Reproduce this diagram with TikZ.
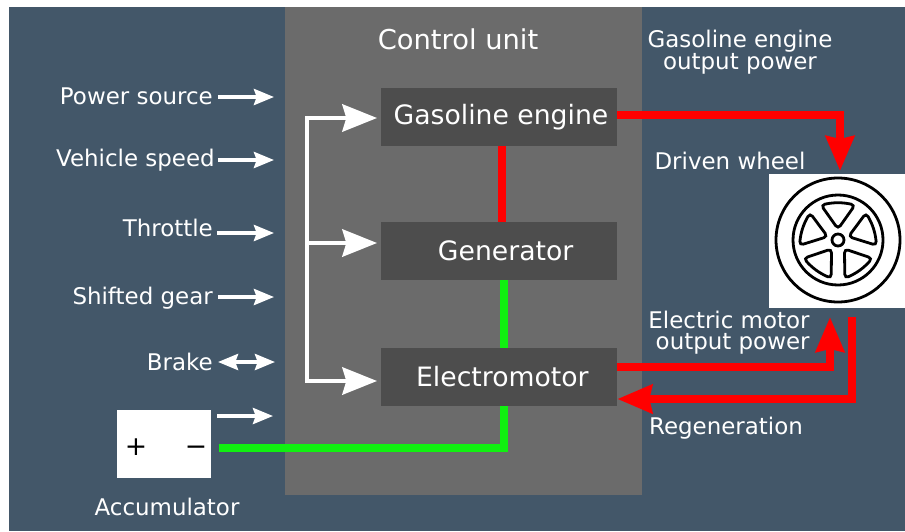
\documentclass[tikz,border=0pt]{standalone}
\usepackage{fontspec}
\setmainfont{DejaVu Sans}
\usetikzlibrary{arrows.meta}
\definecolor{bluebg}{HTML}{435769}
\definecolor{unitgray}{HTML}{6B6B6B}
\definecolor{boxgray}{HTML}{4D4D4D}
\definecolor{linkred}{HTML}{FF0000}
\definecolor{linkgreen}{HTML}{11F011}
\tikzset{
  x=0.75pt,y=-0.75pt,
  lab/.style={text=white,inner sep=0pt,font=\fontsize{17.2pt}{18pt}\selectfont},
  twolines/.style={text=white,inner sep=0pt,font=\fontsize{17.2pt}{15.5pt}\selectfont},
  block/.style={fill=boxgray,draw=none,minimum width=177pt,minimum height=43.5pt,inner sep=0pt,text=white,font=\fontsize{20pt}{22pt}\selectfont},
  smallarrow/.style={draw=white,line width=2.8pt,-{Stealth[length=15pt,width=12pt,inset=2pt]}},
  bigwhite/.style={draw=white,line width=3pt,-{Stealth[length=26pt,width=20.5pt,inset=3pt]}},
  power/.style={draw=linkred,line width=6pt,-{Stealth[length=26pt,width=21pt,inset=2pt]}},
  plainred/.style={draw=linkred,line width=6pt},
  plaingreen/.style={draw=linkgreen,line width=6pt},
  wheelline/.style={draw=black,line width=2.1pt,fill=none},
}
\begin{document}
\begin{tikzpicture}
\useasboundingbox (0,0) rectangle (905,531);
\fill[white] (0,0) rectangle (905,531);
\fill[bluebg] (9,7) rectangle (905,531);
\fill[unitgray] (284.5,7) rectangle (641.5,495);
\node[lab,font=\fontsize{20.5pt}{22pt}\selectfont] (unit) at (458,39) {Control unit};
\node[block] (gas) at (499,117) {\raisebox{-0.7pt}{\hspace*{3pt}Gasoline engine}};
\node[block] (gen) at (499,251) {\hspace*{10pt}Generator};
\node[block] (motor) at (499,377) {\hspace*{5pt}Electromotor};
% wheel
\node[fill=white,minimum width=102pt,minimum height=100pt,inner sep=0pt] (wheelbox) at (836.5,241) {};
\coordinate (wc) at (838,240);
\draw[wheelline] (wc) circle (62);
\draw[wheelline] (wc) circle (45);
\draw[wheelline] (wc) circle (6);
\foreach \a in {0,72,144,216,288}
  \draw[wheelline,rounded corners=3pt,rotate around={\a:(wc)}]
    ([shift={(-17,-35)}]wc) to[bend left=12] ([shift={(17,-35)}]wc) -- ([shift={(0,-11)}]wc) -- cycle;
% labels
\node[lab,anchor=east] (ps) at (213,96) {Power source};
\node[lab,anchor=east] (vs) at (215,160) {Vehicle speed};
\node[lab,anchor=east] (th) at (213,228) {Throttle};
\node[lab,anchor=east] (sg) at (213,298) {Shifted gear};
\node[lab,anchor=east] (br) at (213,362) {Brake};
\node[lab] (acc) at (167,507) {Accumulator};
\node[twolines,align=center] (gop) at (740,52) {Gasoline engine\\output power};
\node[lab] (dw) at (730,161) {Driven wheel};
\node[twolines,align=right] (eop) at (729,333) {Electric motor\\output power};
\node[lab] (reg) at (726,428) {Regeneration};
% accumulator
\node[fill=white,minimum width=70.5pt,minimum height=51pt,inner sep=0pt] (bat) at (164,444) {};
\node[inner sep=0pt,anchor=base,font=\fontsize{20pt}{20pt}\selectfont] (plus) at (136,455) {+};
\node[inner sep=0pt,anchor=base,font=\fontsize{20pt}{20pt}\selectfont] (minus) at (196,455) {−};
% free ends
\coordinate (p1) at (274,97);  \coordinate (p1s) at (218,97);
\coordinate (p2) at (274,160); \coordinate (p2s) at (218,160);
\coordinate (p3) at (274,233); \coordinate (p3s) at (217,233);
\coordinate (p4) at (274,297); \coordinate (p4s) at (218,297);
\coordinate (p5) at (275,362); \coordinate (p5s) at (218,362);
\coordinate (p6) at (273,416); \coordinate (p6s) at (217,416);
\draw[smallarrow] (p1s) -- (p1);
\draw[smallarrow] (p2s) -- (p2);
\draw[smallarrow] (p3s) -- (p3);
\draw[smallarrow] (p4s) -- (p4);
\draw[smallarrow,{Stealth[length=15pt,width=12pt,inset=2pt]}-{Stealth[length=15pt,width=12pt,inset=2pt]}] (p5s) -- (p5);
\draw[smallarrow] (p6s) -- (p6);
% bracket
\coordinate (bt) at (307,118);
\coordinate (bm) at (307,243);
\coordinate (bb) at (307,381);
\draw[bigwhite] (bt) -- (377,118);
\draw[bigwhite] (bm) -- (377,243);
\draw[bigwhite] (bb) -- (377,381);
\draw[draw=white,line width=3pt,line cap=rect] (bt) -- (bb);
% links
\draw[plainred] (gas.south -| 502,0) -- (gen.north -| 502,0);
\draw[plaingreen] (gen.south -| 504,0) -- (motor.north -| 504,0);
\coordinate (batend) at (219,448);
\draw[plaingreen] (batend) -- (504,448) -- (motor.south -| 504,0);
\coordinate (wtop) at (840,171);
\draw[power] (gas.east |- 0,115) -- (840,115) -- (wtop);
\coordinate (wbl) at (830,317);
\draw[power] (motor.east |- 0,367) -- (830,367) -- (wbl);
\coordinate (wbr) at (852,317);
\draw[power] (wbr) -- (852,399) -- (motor.east |- 0,399);
\end{tikzpicture}
\end{document}
